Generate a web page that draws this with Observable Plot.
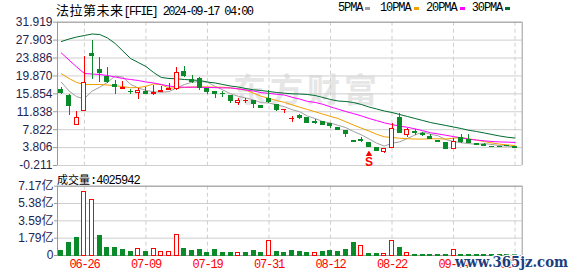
<!DOCTYPE html>
<html><head><meta charset="utf-8">
<script src="https://cdn.jsdelivr.net/npm/d3@7"></script>
<script src="https://cdn.jsdelivr.net/npm/@observablehq/plot@0.6"></script>
<style>
html,body{margin:0;padding:0;background:#fff;}
#root{position:relative;width:578px;height:276px;overflow:hidden;background:#fff;}
#root svg.chart{position:absolute;left:0;overflow:visible;z-index:1;}
.lbl{position:absolute;white-space:nowrap;color:#000;z-index:2;}
.cjk{font-family:"Noto Sans CJK SC",sans-serif;}
.mono{font-family:"Liberation Mono",monospace;font-size:12px;}
.sq{position:absolute;width:5px;height:3px;z-index:2;}
#wm{position:absolute;left:233px;top:70px;font-family:"Noto Sans CJK SC",sans-serif;font-weight:bold;font-size:33px;line-height:36px;letter-spacing:4px;color:#e6e6e6;z-index:0;}
#site{position:absolute;left:0;top:0;z-index:3;overflow:visible;}
#vol g[aria-label="x-axis tick label"] text{letter-spacing:-1.2px;}
</style></head><body><div id="root">
<div id="wm">东方财富</div>
</div>
<script>
const dates = ["06-21","06-24","06-25","06-26","06-27","06-28","07-01","07-02","07-03","07-05","07-08","07-09","07-10","07-11","07-12","07-15","07-16","07-17","07-18","07-19","07-22","07-23","07-24","07-25","07-26","07-29","07-30","07-31","08-01","08-02","08-05","08-06","08-07","08-08","08-09","08-12","08-13","08-14","08-15","08-16","08-19","08-20","08-21","08-22","08-23","08-26","08-27","08-28","08-29","08-30","09-03","09-04","09-05","09-06","09-09","09-10","09-11","09-12","09-13","09-16"];
const open = [16.76,15.26,8.91,12.12,24.83,21.25,19.74,17.88,16.83,16.38,16.09,16.22,15.86,16.38,16.67,16.99,20.86,18.85,19.23,16.83,16.22,15.93,15.26,13.76,14.14,14.14,13.08,14.74,13.40,12.21,10.19,10.84,10.40,9.54,9.50,9.14,8.15,7.48,5.39,5.46,4.88,3.76,2.77,3.67,10.49,6.67,7.19,6.74,6.13,5.39,4.88,3.44,5.91,5.55,4.50,4.30,4.00,4.00,4.15,3.98];
const close = [16.00,13.17,10.49,18.33,24.30,20.48,18.62,17.50,17.12,16.22,16.45,15.86,16.00,16.49,16.99,20.48,19.81,18.62,17.21,16.22,15.86,15.77,14.36,14.36,14.29,13.62,12.73,13.98,12.28,12.28,10.26,10.40,9.27,9.36,8.91,8.60,7.79,6.74,5.01,5.33,3.89,3.00,3.53,8.02,7.03,7.64,7.03,6.58,5.78,5.17,3.44,4.95,5.17,4.79,4.39,4.22,3.95,3.95,4.10,3.67];
const high = [17.28,15.71,11.96,24.23,27.82,23.94,21.69,18.85,18.69,16.83,16.99,17.34,17.73,17.50,18.11,21.83,21.99,19.97,19.45,16.83,16.22,16.38,15.26,14.88,14.88,14.14,13.08,16.60,13.40,12.28,10.78,11.16,10.40,10.03,9.50,9.14,8.38,7.64,5.39,6.00,5.01,3.76,3.53,9.14,11.38,8.02,7.79,7.12,6.67,5.39,4.95,5.91,6.67,6.67,4.65,4.65,4.05,4.05,4.20,4.00];
const low = [15.71,11.00,8.69,12.12,19.00,18.47,18.11,15.71,16.83,15.71,14.59,15.71,15.49,16.22,16.60,16.60,19.59,18.24,16.60,15.77,14.88,15.10,13.76,13.24,13.62,12.50,12.57,13.62,11.90,11.38,9.50,10.10,9.14,8.91,8.76,8.02,7.64,6.13,4.88,4.88,3.89,3.00,2.55,3.53,6.90,6.00,6.51,6.36,5.55,5.17,3.44,3.44,4.79,4.79,4.27,4.05,3.89,3.89,4.05,3.60];
const ma5 = [18.47,16.50,15.20,14.80,16.46,17.35,18.44,19.85,19.60,17.99,17.18,16.63,16.33,16.20,16.36,17.16,17.95,18.48,18.62,18.47,17.54,16.74,15.88,15.31,14.93,14.48,13.87,13.80,13.38,12.98,12.31,11.84,10.90,10.31,9.64,9.31,8.79,8.28,7.41,6.69,5.75,4.79,4.15,4.75,5.09,5.84,6.65,7.26,6.81,6.44,5.60,5.18,4.90,4.70,4.55,4.70,4.50,4.26,4.12,3.98];
const ma10 = [20.35,19.30,18.40,17.95,17.95,17.95,17.84,17.66,17.50,17.22,17.27,17.54,18.09,17.90,17.17,17.17,17.29,17.40,17.41,17.41,17.35,17.35,17.18,16.97,16.70,16.01,15.30,14.84,14.35,13.95,13.39,12.86,12.35,11.85,11.31,10.81,10.31,9.59,8.86,8.17,7.53,6.79,6.22,6.08,5.89,5.80,5.72,5.71,5.78,5.77,5.72,5.92,6.08,5.76,5.49,5.15,4.84,4.58,4.41,4.26];
const ma20 = [25.01,23.44,21.87,20.42,20.30,20.19,19.97,19.63,19.30,19.07,18.85,18.51,18.29,17.95,17.61,17.39,17.34,17.34,17.34,17.28,17.24,17.19,17.18,16.97,16.72,16.49,16.12,15.97,15.76,15.59,15.09,14.68,14.16,13.94,13.51,12.94,12.41,11.89,11.41,10.92,10.34,9.85,9.36,8.97,8.62,8.36,8.00,7.59,7.14,6.86,6.57,6.27,6.00,5.69,5.49,5.33,5.17,5.07,5.03,4.95];
const ma30 = [27.59,28.15,28.60,28.94,29.27,29.16,28.38,27.14,25.46,23.78,22.88,21.99,20.64,19.52,19.30,19.23,19.07,18.96,18.85,18.51,18.29,17.95,17.61,17.39,17.05,16.76,16.60,16.38,16.16,16.00,15.86,15.82,15.71,15.49,15.04,14.59,14.25,14.14,13.91,13.47,12.91,12.46,12.01,11.67,11.22,10.78,10.33,9.88,9.43,9.09,8.76,8.42,8.08,7.68,7.41,7.08,6.74,6.40,6.13,5.95];
const volume = [0.44,1.27,1.76,6.62,5.76,1.97,0.80,0.80,0.52,0.41,0.65,0.41,0.65,0.41,0.41,2.14,0.69,0.44,0.52,0.24,0.52,0.24,0.24,0.21,0.21,0.44,0.24,1.45,0.34,0.24,0.44,0.34,0.24,0.31,0.34,0.44,0.34,0.52,1.27,1.03,0.13,0.13,0.13,1.45,0.76,0.24,0.07,0.07,0.07,0.07,0.07,0.59,0.06,0.06,0.06,0.06,0.05,0.05,0.05,0.04];
const volUp = [0,0,0,1,1,0,0,0,0,0,1,0,1,1,1,1,0,0,0,0,0,0,0,1,0,0,0,1,0,0,0,0,0,1,0,0,0,0,0,1,0,0,1,1,0,1,0,0,0,0,0,1,0,0,0,0,0,0,0,0];
const priceTicks = [31.919,27.903,23.886,19.870,15.854,11.838,7.822,3.806,-0.211];
const volTicks = [0,1.7925,3.585,5.3775,7.17];
const volTickLabels = ["0","1.79亿","3.59亿","5.38亿","7.17亿"];
const xTickLabels = ["06-26","07-09","07-19","07-31","08-12","08-22","09-04","09-16"];
const maNames = ["5PMA","10PMA","20PMA","30PMA"];
const maColors = ["#a0a0a0","#f0a000","#ff00ff","#006b30"];
const events = [{date:"08-19", label:"S"}];
const title = ["法拉第未来", "[FFIE] 2024-09-17 04:00"];
const volLabel = ["成交量", ":4025942"];
const siteMark = "www.365jz.com";

const G = "#0a8a28", R = "#ff0000", GRID = "#cfcfcf", FRAME = "#9a9a9a", LBL = "#1f2450";
const rows = dates.map((d,i)=>({i, d, o:open[i], c:close[i], h:high[i], l:low[i], up: close[i] > open[i],
  v: volume[i], vu: volUp[i] === 1, ma5: ma5[i], ma10: ma10[i], ma20: ma20[i], ma30: ma30[i]}));
const xTicks = xTickLabels.map(t => dates.indexOf(t));
const xDomain = [-0.5, 59.93];
const half = 0.26;
const evRows = events.map(e => ({...e, i: dates.indexOf(e.date), l: low[dates.indexOf(e.date)]}));
const common = {width:578, marginLeft:57, marginRight:56.3,
  style:{background:"transparent", fontFamily:"Liberation Sans, Noto Sans CJK SC", fontSize:"12px", overflow:"visible"},
  color:{type:"identity"}};

const price = Plot.plot({
  ...common, height:170, marginTop:21.7, marginBottom:5,
  x:{type:"linear", domain:xDomain, axis:null},
  y:{domain:[priceTicks[priceTicks.length-1], priceTicks[0]], axis:null, label:null},
  marks:[
    Plot.gridY(priceTicks, {stroke:GRID, strokeOpacity:1}),
    Plot.gridX(xTicks, {stroke:GRID, strokeOpacity:1, strokeDasharray:"4,3"}),
    Plot.ruleY([priceTicks[0]], {stroke:FRAME}),
    Plot.ruleX(xDomain, {stroke:FRAME}),
    Plot.axisY(priceTicks, {tickFormat:d=>d.toFixed(3), tickSize:4, tickPadding:1, stroke:FRAME, fill:LBL, fontSize:12, label:null}),
    ...["ma5","ma10","ma20","ma30"].map((k,j)=>Plot.line(rows, {x:"i", y:k, stroke:maColors[j], strokeWidth:1})),
    Plot.ruleX(rows, {x:"i", y1:"l", y2:"h", stroke:d=>d.up?R:G, shapeRendering:"crispEdges"}),
    Plot.rect(rows, {x1:d=>d.i-half, x2:d=>d.i+half, y1:"o", y2:"c", fill:d=>d.up?"#fff":G, stroke:d=>d.up?R:G, strokeWidth:1, shapeRendering:"crispEdges"}),
    Plot.dot(evRows, {x:"i", y:"l", symbol:"triangle", r:2.4, fill:R, stroke:null, dy:7}),
    Plot.text(evRows, {x:"i", y:"l", text:"label", dy:15, fill:R, fontSize:12, fontWeight:"bold", fontFamily:"Liberation Sans"})
  ]
});
price.classList.add("chart");
price.style.top = "0px";

const vol = Plot.plot({
  ...common, height:106, marginTop:15.7, marginBottom:21,
  x:{type:"linear", domain:xDomain, axis:null},
  y:{domain:[0, volTicks[volTicks.length-1]], axis:null, label:null},
  marks:[
    Plot.gridY(volTicks, {stroke:GRID, strokeOpacity:1}),
    Plot.gridX(xTicks, {stroke:GRID, strokeOpacity:1, strokeDasharray:"4,3"}),
    Plot.ruleY([volTicks[volTicks.length-1], 0], {stroke:FRAME}),
    Plot.ruleX(xDomain, {stroke:FRAME}),
    Plot.rect(rows, {x1:d=>d.i-half, x2:d=>d.i+half, y1:0, y2:"v", fill:d=>d.vu?"#fff":G, stroke:d=>d.vu?R:G, strokeWidth:1, shapeRendering:"crispEdges"}),
    Plot.axisY(volTicks, {tickFormat:d=>volTickLabels[volTicks.indexOf(d)], tickSize:3, tickPadding:1, stroke:FRAME, fill:LBL, fontSize:12, label:null}),
    Plot.axisX(xTicks, {tickFormat:i=>dates[i], tickSize:0, tickPadding:4, fill:R, fontSize:12, fontFamily:"Liberation Mono", label:null})
  ]
});
vol.classList.add("chart");
vol.id = "vol";
vol.style.top = "170px";

const root = document.getElementById("root");
root.appendChild(price);
root.appendChild(vol);

function addLabel(left, top, parts, sizes, spacing){
  const div = document.createElement("div");
  div.className = "lbl";
  div.style.left = left + "px"; div.style.top = top + "px";
  parts.forEach((p, k) => {
    const s = document.createElement("span");
    s.textContent = p;
    s.className = k === 0 ? "cjk" : "mono";
    s.style.fontSize = sizes[k] + "px";
    s.style.lineHeight = "14px";
    s.style.letterSpacing = spacing[k] + "px";
    div.appendChild(s);
  });
  root.appendChild(div);
}
addLabel(56, 1, title, [13, 12], [0.5, -1.6]);
addLabel(57, 170, volLabel, [11, 12], [0, -1.0]);

// legend
const legX = [338, 380, 426, 471.7];
maNames.forEach((n, j) => {
  const d = document.createElement("div");
  d.className = "lbl mono";
  d.style.left = legX[j] + "px"; d.style.top = "1px"; d.style.lineHeight = "14px";
  d.style.letterSpacing = "-1.1px";
  d.textContent = n;
  root.appendChild(d);
  const sq = document.createElement("div");
  sq.className = "sq";
  sq.style.left = (legX[j] + n.length * 6.1 + 3) + "px";
  sq.style.top = "7px";
  sq.style.background = maColors[j];
  root.appendChild(sq);
});

// site watermark overlay
const ns = "http://www.w3.org/2000/svg";
const ov = document.createElementNS(ns, "svg");
ov.setAttribute("id", "site"); ov.setAttribute("width", 578); ov.setAttribute("height", 276);
const t = document.createElementNS(ns, "text");
t.setAttribute("x", 455); t.setAttribute("y", 267);
t.setAttribute("textLength", 113); t.setAttribute("lengthAdjust", "spacingAndGlyphs");
t.setAttribute("font-family", "DejaVu Serif"); t.setAttribute("font-weight", "bold"); t.setAttribute("font-size", 15);
t.setAttribute("fill", "#1c3d7d"); t.setAttribute("stroke", "#fff"); t.setAttribute("stroke-width", 2.5);
t.setAttribute("paint-order", "stroke");
t.textContent = siteMark;
ov.appendChild(t);
root.appendChild(ov);
</script>
</body></html>
